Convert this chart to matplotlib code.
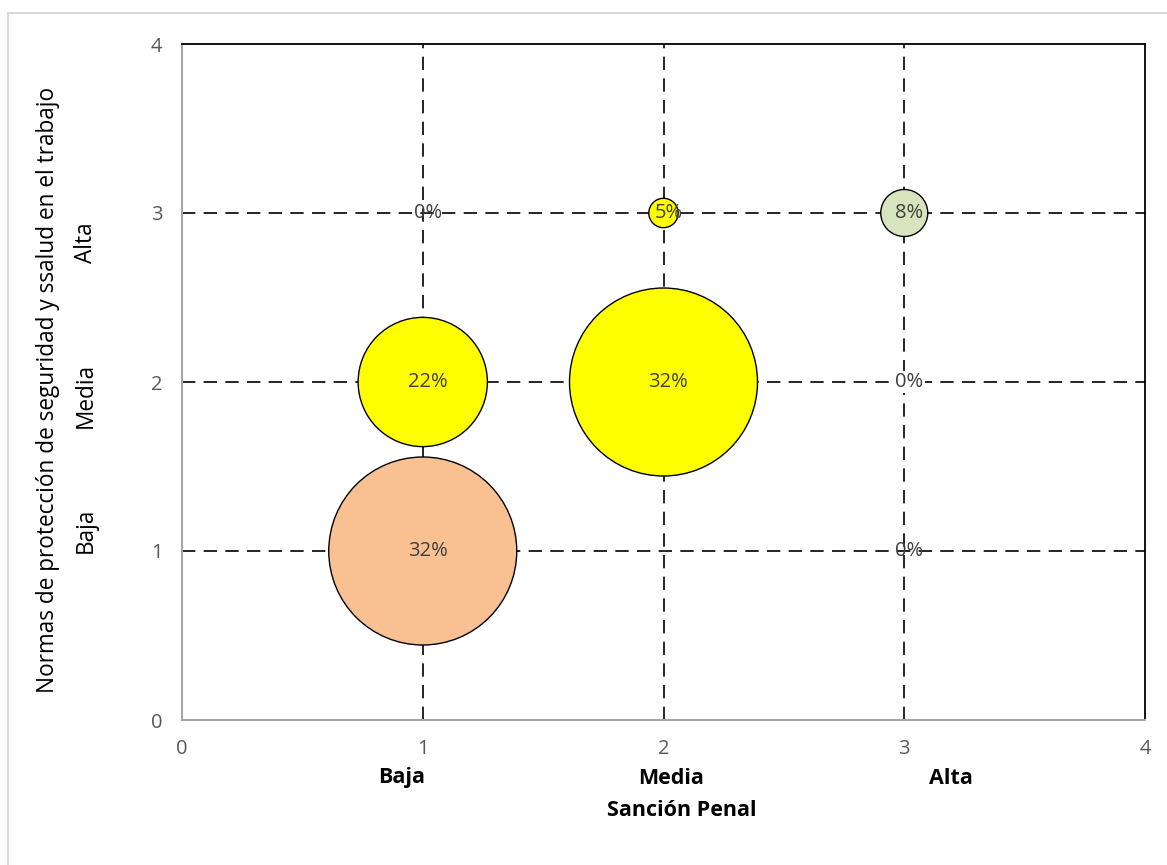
import matplotlib
matplotlib.use("Agg")
import matplotlib.pyplot as plt
from matplotlib.patches import Rectangle

# Data
x_vals = [1, 2, 3, 1, 2, 3, 1, 3]
y_vals = [3, 3, 3, 2, 2, 2, 1, 1]
pct = [0, 5, 8, 22, 32, 0, 32, 0]
colors = ["#FFFF00", "#FFFF00", "#D7E4BD", "#FFFF00", "#FFFF00", "#FFFFFF", "#F9C192", "#FFFFFF"]
x_cats = ["Baja", "Media", "Alta"]
y_cats = ["Baja", "Media", "Alta"]
ticks = [0, 1, 2, 3, 4]

plt.rcParams['font.family'] = ['Open Sans', 'DejaVu Sans']

W, H, DPI = 1167, 865, 100
fig = plt.figure(figsize=(W / DPI, H / DPI), dpi=DPI)
fig.patches.append(Rectangle((8 / W, -0.05), 1.2, 1 - 13 / H + 0.05, transform=fig.transFigure,
                             fill=False, edgecolor="#D9D9D9", linewidth=1.5))

ax = fig.add_axes([182 / W, 1 - 720 / H, (1145 - 182) / W, (720 - 44) / H])
ax.set_xlim(0, 4)
ax.set_ylim(0, 4)
ax.set_xticks(ticks)
ax.set_yticks(ticks)
ax.tick_params(length=0, labelsize=14.5, labelcolor="#595959")
ax.tick_params(axis="x", pad=14)
ax.tick_params(axis="y", pad=14)

for g in [1, 2, 3]:
    ax.axvline(g, color="black", linestyle=(0, (8, 5)), linewidth=1.2, zorder=1)
    ax.axhline(g, color="black", linestyle=(0, (8, 5)), linewidth=1.2, zorder=1)

for s in ["top", "right"]:
    ax.spines[s].set_color("black")
    ax.spines[s].set_linewidth(1.3)
for s in ["left", "bottom"]:
    ax.spines[s].set_color("#A6A6A6")
    ax.spines[s].set_linewidth(1.5)

# bubble diameter proportional to value: 32% -> 188 px
sizes = [((188 * p / 32) * 72 / DPI) ** 2 for p in pct]
ax.scatter(x_vals, y_vals, s=sizes, c=colors, edgecolors="black", linewidths=1.0, zorder=3)

for xv, yv, p in zip(x_vals, y_vals, pct):
    kw = {}
    if p == 0 and xv == 3 and yv == 2:
        kw = dict(bbox=dict(facecolor="white", edgecolor="none", pad=1))
    ax.text(xv + 0.02, yv, f"{p}%", ha="center", va="center", fontsize=14.5,
            color="#404040", zorder=4, **kw)

# x category labels
for i, lab in enumerate(x_cats):
    fig.text([402, 671, 951][i] / W, 1 - 778 / H, lab, ha="center", va="center",
             fontsize=15.5, fontweight="bold", color="black")
fig.text(682 / W, 1 - 810 / H, "Sanción Penal", ha="center", va="center",
         fontsize=15.5, fontweight="bold", color="black")

# y labels
fig.text(48 / W, 1 - 390 / H, "Normas de protección de seguridad y ssalud en el trabajo",
         rotation=90, ha="center", va="center", fontsize=16.3, color="black")
for yp, lab in zip([530, 395, 243], y_cats):
    fig.text(86 / W, 1 - yp / H, lab, rotation=90, ha="center", va="center",
             fontsize=16.3, color="black")

fig.savefig("out.png", dpi=DPI)
